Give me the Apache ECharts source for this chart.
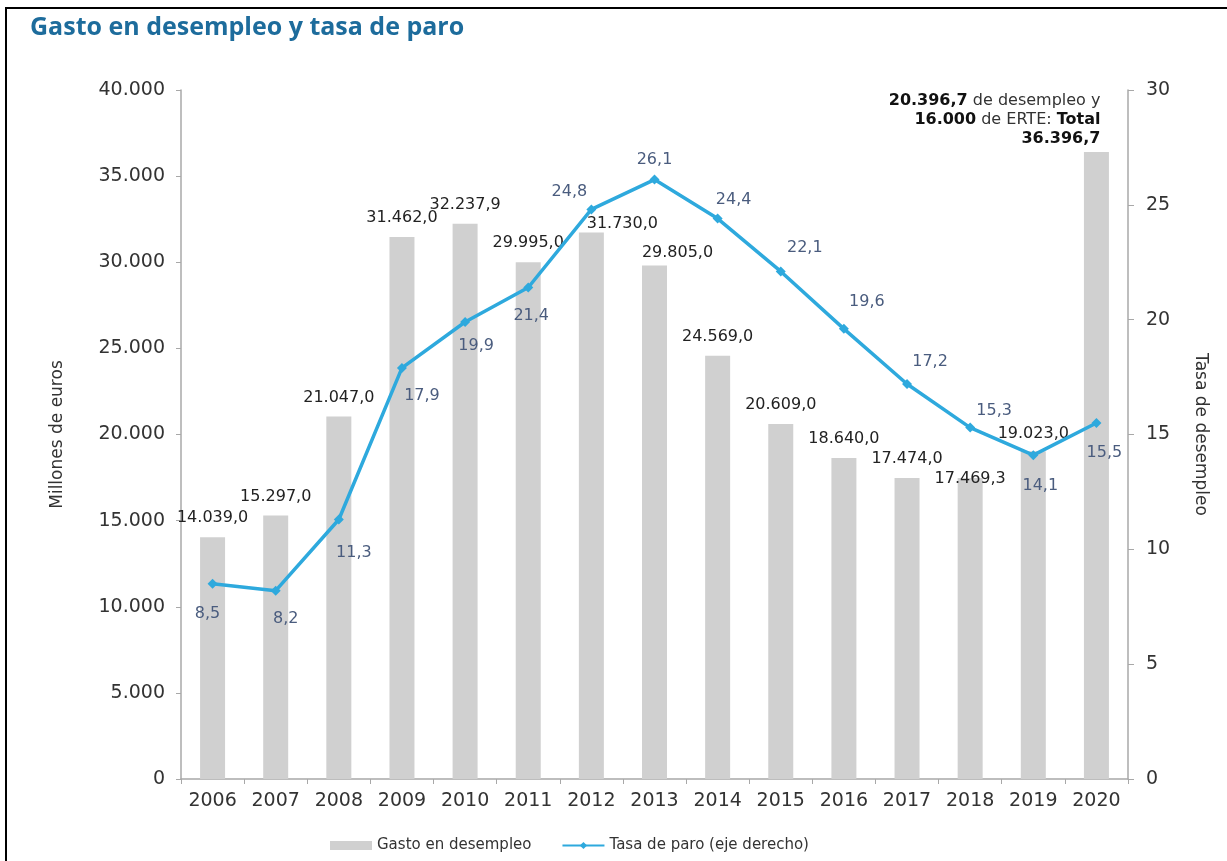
<!DOCTYPE html>
<html>
<head>
<meta charset="utf-8">
<script src="https://cdn.jsdelivr.net/npm/echarts@6/dist/echarts.min.js"></script>
<style>
html,body{margin:0;padding:0;background:#fff;}
#chart{width:1227px;height:861px;}
#frame{position:absolute;left:5px;top:7px;width:1230px;height:870px;border-left:2px solid #000;border-top:2px solid #000;pointer-events:none;box-sizing:border-box;}
</style>
</head>
<body>
<div id="chart"></div>
<div id="frame"></div>
<script>
const years = ['2006','2007','2008','2009','2010','2011','2012','2013','2014','2015','2016','2017','2018','2019','2020'];
const gasto = [14039.0, 15297.0, 21047.0, 31462.0, 32237.9, 29995.0, 31730.0, 29805.0, 24569.0, 20609.0, 18640.0, 17474.0, 17469.3, 19023.0, 36396.7];
const tasa = [8.5, 8.2, 11.3, 17.9, 19.9, 21.4, 24.8, 26.1, 24.4, 22.1, 19.6, 17.2, 15.3, 14.1, 15.5];
const gasto2020Desempleo = 20396.7;
const gasto2020Erte = 16000;

// label nudges (style only)
const barLabelOffsets = [[0,0],[0,0],[0,0],[0,0],[0,0],[0,0],[31,10],[23,6],[0,0],[0,0],[0,0],[0,0],[0,20],[0,2],[0,0]];
const lineLabelOffsets = [[-5,30],[10,28],[15,33],[20,28],[11,24],[3,28],[-22,-18],[0,-20],[16,-19],[24,-24],[23,-27],[23,-22],[24,-17],[7,31],[8,30]];

const FONT = 'DejaVu Sans';
function fmt(v, dec) {
  const s = v.toFixed(dec);
  const parts = s.split('.');
  const intp = parts[0].replace(/\B(?=(\d{3})+(?!\d))/g, '.');
  return dec ? intp + ',' + parts[1] : intp;
}

const barData = gasto.map((v, i) => {
  if (i === gasto.length - 1) {
    return {
      value: v,
      label: {
        show: true,
        position: 'top',
        distance: 4,
        align: 'right',
        offset: [4, 0],
        formatter: '{b|' + fmt(gasto2020Desempleo, 1) + '} {n|de desempleo y}\n{b|' + fmt(gasto2020Erte, 0) + '} {n|de ERTE:} {b|Total}\n{b|' + fmt(v, 1) + '}',
        rich: {
          b: { fontFamily: FONT, fontWeight: 'bold', fontSize: 16, color: '#111', lineHeight: 19, align: 'right' },
          n: { fontFamily: FONT, fontSize: 16, color: '#333', lineHeight: 19, align: 'right' }
        }
      }
    };
  }
  return { value: v, label: { offset: barLabelOffsets[i] } };
});

const lineData = tasa.map((v, i) => ({ value: v, label: { offset: lineLabelOffsets[i] } }));

const chart = echarts.init(document.getElementById('chart'));
chart.setOption({
  animation: false,
  title: {
    text: 'Gasto en desempleo y tasa de paro',
    left: 25, top: 10,
    textStyle: { fontFamily: 'Open Sans', fontWeight: 'bold', fontSize: 25, color: '#1d6c9c' }
  },
  grid: { left: 181, right: 99, top: 90, bottom: 82 },
  legend: {
    bottom: 3, left: 325,
    itemWidth: 42, itemHeight: 9, itemGap: 30,
    textStyle: { fontFamily: FONT, fontSize: 15, color: '#333' },
    data: [
      { name: 'Gasto en desempleo', icon: 'rect' },
      { name: 'Tasa de paro (eje derecho)' }
    ]
  },
  xAxis: {
    type: 'category',
    data: years,
    axisLine: { lineStyle: { color: '#a8a8a8', width: 1.5 } },
    axisTick: { show: true, length: 5, lineStyle: { color: '#a8a8a8' } },
    axisLabel: { fontFamily: FONT, fontSize: 19, color: '#333', margin: 13 }
  },
  yAxis: [
    {
      type: 'value', min: 0, max: 40000, interval: 5000,
      name: 'Millones de euros', nameLocation: 'middle', nameGap: 115, nameRotate: 90,
      nameTextStyle: { fontFamily: FONT, fontSize: 17, color: '#333' },
      axisLine: { show: true, lineStyle: { color: '#a8a8a8', width: 1.5 } },
      axisTick: { show: true, length: 5, lineStyle: { color: '#a8a8a8' } },
      splitLine: { show: false },
      axisLabel: { fontFamily: FONT, fontSize: 19, color: '#333', margin: 16, formatter: v => fmt(v, 0) }
    },
    {
      type: 'value', min: 0, max: 30, interval: 5,
      name: 'Tasa de desempleo', nameLocation: 'middle', nameGap: 64, nameRotate: -90,
      nameTextStyle: { fontFamily: FONT, fontSize: 17, color: '#333' },
      axisLine: { show: true, lineStyle: { color: '#a8a8a8', width: 1.5 } },
      axisTick: { show: true, length: 6, lineStyle: { color: '#a8a8a8' } },
      splitLine: { show: false },
      axisLabel: { fontFamily: FONT, fontSize: 19, color: '#333', margin: 18 }
    }
  ],
  series: [
    {
      name: 'Gasto en desempleo',
      type: 'bar',
      data: barData,
      barWidth: 25,
      itemStyle: { color: '#d0d0d0' },
      label: {
        show: true, position: 'top', distance: 11,
        fontFamily: FONT, fontSize: 16, color: '#222',
        formatter: p => fmt(p.value, 1)
      },
      z: 1
    },
    {
      name: 'Tasa de paro (eje derecho)',
      type: 'line',
      yAxisIndex: 1,
      data: lineData,
      symbol: 'diamond',
      symbolSize: 10,
      lineStyle: { color: '#2ea9dd', width: 3.5 },
      itemStyle: { color: '#2ea9dd' },
      label: {
        show: true, position: 'inside',
        fontFamily: FONT, fontSize: 16, color: '#4a5c7e',
        formatter: p => String(p.value).replace('.', ',')
      },
      z: 3
    }
  ]
});
</script>
</body>
</html>
